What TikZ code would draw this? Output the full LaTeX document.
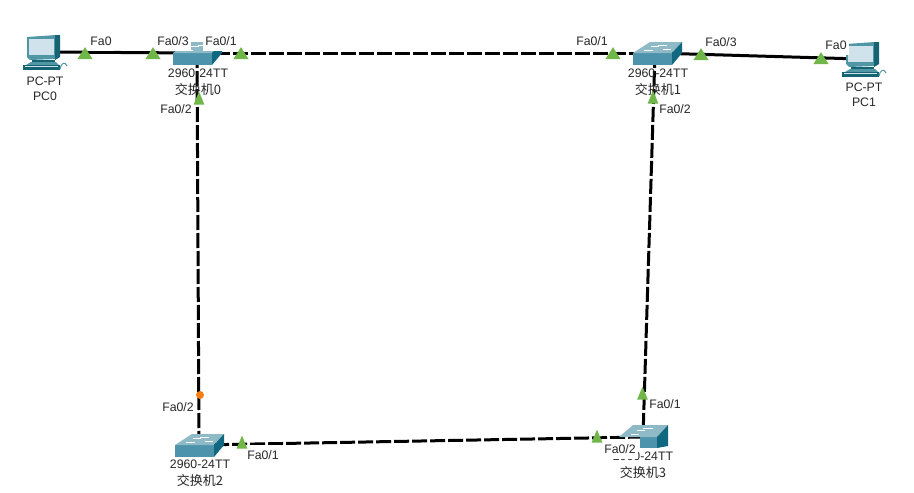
\documentclass[tikz,border=0pt]{standalone}
\usepackage{fontspec}
\setmainfont{Liberation Sans}
\newfontfamily\cjk{Noto Sans CJK SC}
\definecolor{swfront}{RGB}{78,147,172}
\definecolor{swtop}{RGB}{142,186,200}
\definecolor{swside}{RGB}{16,104,128}
\definecolor{pcframe}{RGB}{80,150,165}
\definecolor{pcscreen}{RGB}{208,226,236}
\definecolor{pcdark}{RGB}{20,100,115}
\definecolor{portgreen}{RGB}{112,182,72}
\definecolor{portorange}{RGB}{245,125,20}
\usetikzlibrary{shapes.geometric}
\newcommand{\cjklab}[1]{{\fontsize{13}{14}\selectfont\cjk #1}}
\tikzset{
  anchorbox/.style={inner sep=0pt,minimum width=10pt,minimum height=10pt},
  devlabel/.style={inner sep=0pt,font=\fontsize{12.3}{16.5}\selectfont,align=center,text=black!85},
  pclabel/.style={devlabel,font=\fontsize{12.3}{15}\selectfont},
  portlabel/.style={fill=white,inner xsep=2.5pt,inner ysep=0pt,minimum height=20pt,font=\fontsize{12.3}{14}\selectfont,text=black!85},
  solidlink/.style={line width=3pt,black},
  dashlink/.style={line width=3pt,black,dash pattern=on 15pt off 3pt},
  gport/.style={isosceles triangle,isosceles triangle apex angle=65,shape border rotate=90,fill=portgreen,inner sep=0pt,minimum height=12pt,minimum width=15pt,yshift=-2pt},
  gportsmall/.style={gport,isosceles triangle apex angle=45,minimum height=13pt,minimum width=10pt,yshift=-1pt},
  oport/.style={circle,fill=portorange,inner sep=0pt,minimum size=8pt}
}
\newcommand{\swicon}[2]{%
  \begin{scope}[shift={(#1,#2)}]
    \fill[swfront] (0,11) rectangle (39,23);
    \fill[swtop] (0,11) -- (17,0) -- (49,0) -- (39,11) -- cycle;
    \fill[swside] (39,11) -- (49,0) -- (49,11) -- (39,23) -- cycle;
    \draw[white,line width=0.8pt] (11,8) -- (20,8) (25,3) -- (34,3) (18,4.5) -- (26,4.5) (30,7.5) -- (38,7.5);
  \end{scope}}
\newcommand{\pcicon}[2]{%
  \begin{scope}[shift={(#1,#2)}]
    \fill[pcframe] (4,2) -- (33,0) -- (33,24) -- (7,25) -- (4,22) -- cycle;
    \fill[pcdark] (32,0) -- (37,0) -- (37,22) -- (32,25) -- cycle;
    \fill[pcscreen] (6,4) rectangle (31,20);
    \fill[pcdark] (9,25) rectangle (32,27);
    \fill[pcframe] (3,30) -- (8,27) -- (33,27) -- (36,30) -- cycle;
    \fill[pcdark] (0,30) rectangle (37,35);
    \fill[pcscreen] (2,31) rectangle (35,32);
    \draw[pcframe,line width=1pt] (37,34) .. controls (38,28) and (42,26) .. (44,31);
  \end{scope}}
\begin{document}
\begin{tikzpicture}[x=1pt,y=-1pt]
\useasboundingbox (0,0) rectangle (914,493);
% anchors
\node[anchorbox] (pc0) at (45,52) {};
\node[anchorbox] (pc1) at (860,59) {};
\node[anchorbox] (sw0) at (197,53) {};
\node[anchorbox] (sw1) at (655,53) {};
\node[anchorbox] (sw2) at (199,445) {};
\node[anchorbox] (sw3) at (643,437) {};
% links
\draw[solidlink] (pc0.center) -- (sw0.center);
\draw[solidlink] (sw1.center) -- (pc1.center);
\draw[dashlink] (sw0.center) -- (sw1.center);
\draw[dashlink] (sw0.center) -- (sw2.center);
\draw[dashlink] (sw1.center) -- (sw3.center);
\draw[dashlink] (sw3.center) -- (sw2.center);
% icons
\swicon{173}{42}
\swicon{633}{42}
\swicon{175}{434}
\begin{scope}[shift={(619,425)}]
  \fill[swfront] (21,12) rectangle (38,23);
  \fill[swtop] (0,12) -- (14,0) -- (49,0) -- (38,12) -- cycle;
  \fill[swside] (38,12) -- (49,0) -- (49,21) -- (38,23) -- cycle;
  \draw[white,line width=0.8pt] (12,9) -- (20,9) (24,3) -- (34,3) (18,5) -- (26,5);
\end{scope}
\pcicon{23}{35}
\pcicon{842}{42}
% device labels
\node[devlabel] (l0) at (198,82) {2960-24TT\\\cjklab{交换机0}};
\node[devlabel] (l1) at (658,82) {2960-24TT\\\cjklab{交换机1}};
\node[devlabel] (l2) at (200,473) {2960-24TT\\\cjklab{交换机2}};
\node[devlabel] (l3) at (643,465) {2960-24TT\\\cjklab{交换机3}};
\node[pclabel] (pc0l) at (45,89) {PC-PT\\PC0};
\node[pclabel] (pc1l) at (864,95) {PC-PT\\PC1};
% port labels
\node[portlabel] (a1) at (101,41) {Fa0};
\node[portlabel] (a2) at (173,41) {Fa0/3};
\node[portlabel] (a3) at (221,41) {Fa0/1};
\node[portlabel] (a4) at (592,41) {Fa0/1};
\node[portlabel] (a5) at (721,42) {Fa0/3};
\node[portlabel] (a6) at (836,45) {Fa0};
\node[portlabel] (a7) at (176,109) {Fa0/2};
\node[portlabel] (a8) at (675,109) {Fa0/2};
\node[portlabel] (a9) at (178,407) {Fa0/2};
\node[portlabel] (a10) at (263,455) {Fa0/1};
\node[portlabel] (a11) at (620,449) {Fa0/2};
\node[portlabel] (a12) at (665,404) {Fa0/1};
% port markers
\node[gport] (p1) at (85,53) {};
\node[gport] (p2) at (153,53) {};
\node[gport] (p3) at (241,53) {};
\node[gport] (p4) at (613,53) {};
\node[gport] (p5) at (701,54) {};
\node[gport] (p6) at (821,58) {};
\node[gportsmall] (p7) at (199,98) {};
\node[gportsmall] (p8) at (653,97) {};
\node[gportsmall] (p9) at (642.5,393) {};
\node[gportsmall] (p10) at (597,436) {};
\node[gportsmall] (p11) at (242,442) {};
\node[oport] (p12) at (200,395) {};
\end{tikzpicture}
\end{document}
